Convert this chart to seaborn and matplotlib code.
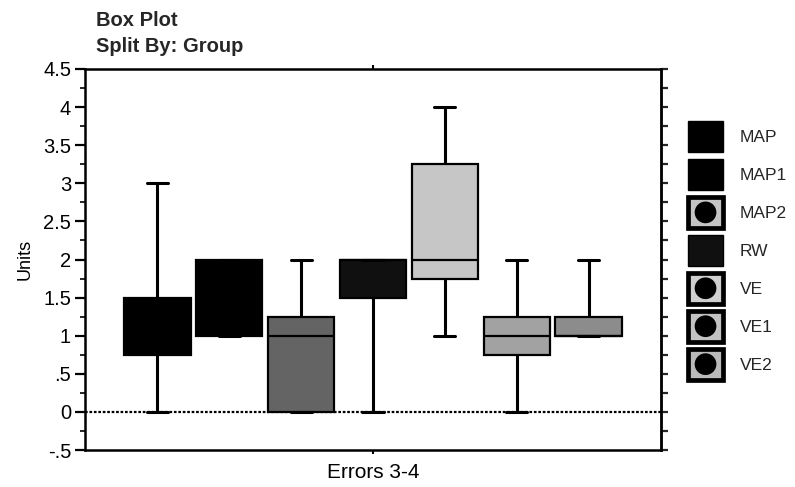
import numpy as np
import pandas as pd
import matplotlib
matplotlib.use("Agg")
import matplotlib.pyplot as plt
from matplotlib.patches import Patch, Rectangle, Ellipse
from matplotlib.legend_handler import HandlerBase
from matplotlib.ticker import MultipleLocator, FuncFormatter
import seaborn as sns

# Five-number summaries (min, Q1, median, Q3, max) per group
task = "Errors 3-4"
groups = ["MAP", "MAP1", "MAP2", "RW", "VE", "VE1", "VE2"]
map_vals = [0, 0.75, 1, 1.5, 3]
map1_vals = [1, 1, 1.5, 2, 2]
map2_vals = [0, 0, 1, 1.25, 2]
rw_vals = [0, 1.5, 2, 2, 2]
ve_vals = [1, 1.75, 2, 3.25, 4]
ve1_vals = [0, 0.75, 1, 1.25, 2]
ve2_vals = [1, 1, 1, 1.25, 2]

box_colors = ["#000000", "#000000", "#646464", "#101010", "#c6c6c6", "#a2a2a2", "#8c8c8c"]
ring_colors = [None, None, "#c4c4c4", None, "#cfcfcf", "#c2c2c2", "#bababa"]

series = [map_vals, map1_vals, map2_vals, rw_vals, ve_vals, ve1_vals, ve2_vals]
df = pd.DataFrame(
    [(task, g, v) for g, vals in zip(groups, series) for v in vals],
    columns=["Task", "Group", "Units"],
)

sns.set_theme(style="ticks")
plt.rcParams["font.family"] = ["Liberation Sans", "DejaVu Sans"]

fig = plt.figure(figsize=(7.95, 4.87), dpi=100)
ax = fig.add_axes([85 / 795, 1 - 450 / 487, 576 / 795, 381 / 487])

sns.boxplot(
    data=df, x="Task", y="Units", hue="Group", hue_order=groups,
    palette=dict(zip(groups, box_colors)),
    whis=(0, 100), width=0.873, gap=0.08, linecolor="black", linewidth=1.6,
    whiskerprops={"linewidth": 2.2}, capprops={"linewidth": 2.2},
    medianprops={"linewidth": 1.6, "color": "black"},
    capwidths=0.037,
    legend=False, ax=ax, zorder=3,
)

# zero reference line
ax.axhline(0, color="black", lw=1.6, ls=(0, (1.2, 0.8)), zorder=2)

ax.set_ylim(-0.5, 4.5)
ax.set_xlim(-0.5, 0.5)
ax.yaxis.set_major_locator(MultipleLocator(0.5))
ax.yaxis.set_minor_locator(MultipleLocator(0.25))


def fmt(v, _):
    s = f"{v:g}"
    if s.startswith("0."):
        s = s[1:]
    elif s.startswith("-0."):
        s = "-" + s[2:]
    return s


ax.yaxis.set_major_formatter(FuncFormatter(fmt))
ax.tick_params(axis="y", which="major", length=7, width=1.6, labelsize=14.5, pad=3, colors="black")
ax.tick_params(axis="y", which="minor", length=3.5, width=1.4, left=True)
ax.tick_params(axis="x", length=3, width=1.5, top=True, labelsize=15, pad=6, colors="black")
for sp in ax.spines.values():
    sp.set_visible(True)
    sp.set_linewidth(1.8)
    sp.set_color("black")

right = ax.secondary_yaxis("right")
right.yaxis.set_major_locator(MultipleLocator(0.25))
right.tick_params(axis="y", length=5, width=1.6, labelright=False)
right.spines["right"].set_linewidth(1.8)

ax.set_xlabel("")
ax.set_ylabel("Units", fontsize=13, labelpad=7, color="black")

fig.text(96 / 795, 1 - 20 / 487, "Box Plot", fontsize=14.5, fontweight="bold", va="center", ha="left")
fig.text(96 / 795, 1 - 47 / 487, "Split By: Group", fontsize=14.5, fontweight="bold", va="center", ha="left")


class RingSwatch(HandlerBase):
    """Square swatch with a thick dark frame, a light ring and a dark centre dot."""

    def create_artists(self, legend, orig_handle, xdescent, ydescent,
                       width, height, fontsize, trans):
        x0, y0 = -xdescent, -ydescent
        rect = Rectangle((x0, y0), width, height, facecolor=orig_handle.get_facecolor(),
                         edgecolor="black", linewidth=3.4, transform=trans)
        d = min(width, height) * 0.7
        dot = Ellipse((x0 + width / 2, y0 + height / 2), d, d,
                      facecolor="black", edgecolor="none", transform=trans)
        return [rect, dot]


handles = []
hmap = {}
for g, c, r in zip(groups, box_colors, ring_colors):
    if r is None:
        h = Patch(facecolor=c, edgecolor="black", linewidth=1.0)
    else:
        h = Patch(facecolor=r, edgecolor="black")
        hmap[h] = RingSwatch()
    handles.append(h)

fig.legend(
    handles, groups, handler_map=hmap, loc="upper left",
    bbox_to_anchor=(688 / 795, 1 - 121 / 487),
    frameon=False, borderpad=0, borderaxespad=0, fontsize=12.5,
    handlelength=2.02, handleheight=2.37, labelspacing=0.40, handletextpad=0.98,
)

fig.savefig("out.png", dpi=100)
